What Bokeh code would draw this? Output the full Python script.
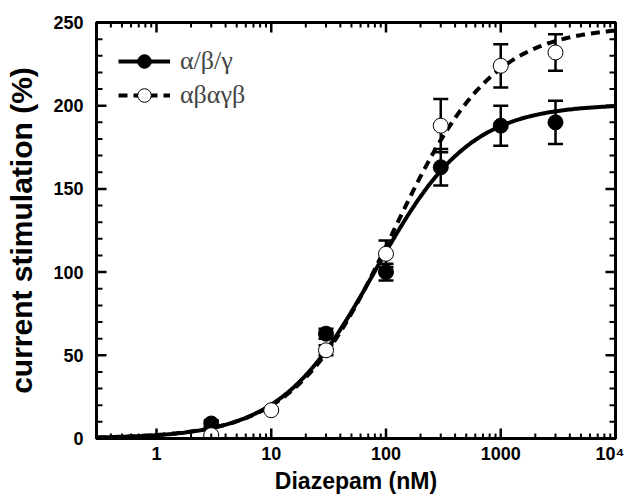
import numpy as np
from bokeh.plotting import figure
from bokeh.models import (ColumnDataSource, Whisker, FixedTicker, LinearAxis, LogAxis,
                          Legend, LegendItem, Range1d)
from bokeh.embed import file_html
from bokeh.resources import INLINE

# ---- data ----
conc_abg = [3, 30, 100, 300, 1000, 3000]
stim_abg = [9, 63, 100, 163, 188, 190]
err_abg = [2, 3, 5, 11, 12, 13]

conc_conc = [3, 10, 30, 100, 300, 1000, 3000]
stim_conc = [2, 17, 53, 111, 188, 224, 232]
err_conc = [0, 0, 3, 8, 16, 13, 11]

# Hill fit parameters (Emax, EC50 nM, Hill coefficient)
fit_abg = (201, 80, 1.05)
fit_conc = (248, 115, 1.0)

x_ticks = [1, 10, 100, 1000, 10000]
x_tick_labels = {1: "1", 10: "10", 100: "100", 1000: "1000", 10000: "10\u2074"}
y_ticks = [0, 50, 100, 150, 200, 250]
x_min, x_max = 0.3, 10000
y_min, y_max = 0, 250

label_font = "Liberation Sans"

W, H = 624, 498
BL, BR, BT, BB = 96, 9, 22, 60
p = figure(width=W, height=H, x_axis_type="log", output_backend="svg",
           toolbar_location=None, x_range=Range1d(x_min, x_max), y_range=Range1d(y_min, y_max),
           min_border_left=BL, min_border_right=BR, min_border_top=BT, min_border_bottom=BB)
p.xgrid.visible = False
p.ygrid.visible = False
p.outline_line_color = "black"
p.outline_line_width = 3
p.background_fill_color = "white"
p.border_fill_color = "white"

xminor = [m * 10.0 ** k for k in range(-1, 4) for m in range(2, 10) if x_min < m * 10.0 ** k < x_max]
yminor = [v for v in range(0, 251, 10) if v not in y_ticks]


def style_axis(ax, show_labels):
    ax.axis_line_width = 3
    ax.major_tick_in = 0
    ax.major_tick_out = 0
    ax.minor_tick_in = 0
    ax.minor_tick_out = 0
    ax.major_label_text_font = label_font
    ax.major_label_text_font_style = "bold"
    ax.major_label_text_font_size = "18px"
    ax.major_label_text_color = "black"
    ax.axis_label_text_font = label_font
    ax.axis_label_text_font_style = "bold"
    ax.axis_label_text_color = "black"
    if not show_labels:
        ax.major_label_text_alpha = 0
        ax.major_label_text_font_size = "2px"
        ax.major_label_standoff = 0


xa = p.xaxis[0]
xa.ticker = FixedTicker(ticks=x_ticks)
xa.major_label_overrides = x_tick_labels
style_axis(xa, True)
xa.axis_label = "Diazepam (nM)"
xa.axis_label_text_font_size = "23px"
xa.major_label_standoff = 5
xa.axis_label_standoff = 1

ya = p.yaxis[0]
ya.ticker = FixedTicker(ticks=y_ticks)
style_axis(ya, True)
ya.axis_label = "current stimulation (%)"
ya.axis_label_text_font_size = "30px"
ya.major_label_standoff = 13
ya.axis_label_standoff = 12

top = LogAxis(ticker=FixedTicker(ticks=x_ticks))
style_axis(top, False)
p.add_layout(top, "above")
right = LinearAxis(ticker=FixedTicker(ticks=y_ticks))
style_axis(right, False)
p.add_layout(right, "right")

# inward tick marks drawn as head-less whisker annotations from each frame edge
frame_w = W - BL - BR
frame_h = H - BT - BB
px_per_y = frame_h / (y_max - y_min)
px_per_decade = frame_w / (np.log10(x_max) - np.log10(x_min))


def tick_whisker(data, base, lower, upper, dim, width):
    src = ColumnDataSource(data)
    w = Whisker(source=src, base=base, lower=lower, upper=upper, dimension=dim,
                upper_head=None, lower_head=None, line_color="black", line_width=width,
                level="overlay")
    p.add_layout(w)


def x_edge_ticks(vals, length_px, width):
    d = length_px / px_per_y
    n = len(vals)
    tick_whisker(dict(x=vals, a=[y_min] * n, b=[y_min + d] * n), "x", "a", "b", "height", width)
    tick_whisker(dict(x=vals, a=[y_max - d] * n, b=[y_max] * n), "x", "a", "b", "height", width)


def y_edge_ticks(vals, length_px, width):
    f = 10 ** (length_px / px_per_decade)
    n = len(vals)
    tick_whisker(dict(y=vals, a=[x_min] * n, b=[x_min * f] * n), "y", "a", "b", "width", width)
    tick_whisker(dict(y=vals, a=[x_max / f] * n, b=[x_max] * n), "y", "a", "b", "width", width)


x_edge_ticks(x_ticks, 10, 2.5)
x_edge_ticks(xminor, 5, 2)
y_edge_ticks(y_ticks, 10, 2.5)
y_edge_ticks(yminor, 6, 2)

# fit curves
xs = np.logspace(np.log10(x_min), np.log10(x_max), 300)


def hill(params):
    emax, ec50, n = params
    return emax * xs ** n / (xs ** n + ec50 ** n)


l1 = p.line(xs, hill(fit_abg), line_color="black", line_width=4)
l2 = p.line(xs, hill(fit_conc), line_color="black", line_width=4, line_dash="9 6")

src1 = ColumnDataSource(dict(x=conc_abg, y=stim_abg,
                             lo=[a - b for a, b in zip(stim_abg, err_abg)],
                             hi=[a + b for a, b in zip(stim_abg, err_abg)]))
src2 = ColumnDataSource(dict(x=conc_conc, y=stim_conc,
                             lo=[a - b for a, b in zip(stim_conc, err_conc)],
                             hi=[a + b for a, b in zip(stim_conc, err_conc)]))

for src in (src1, src2):
    w = Whisker(source=src, base="x", lower="lo", upper="hi", dimension="height",
                line_color="black", line_width=2.5)
    w.upper_head.size = 15
    w.lower_head.size = 15
    w.upper_head.line_width = 2.5
    w.lower_head.line_width = 2.5
    p.add_layout(w)

s1 = p.scatter("x", "y", source=src1, size=15, marker="circle",
               fill_color="black", line_color="black", line_width=1)
s2 = p.scatter("x", "y", source=src2, size=15, marker="circle",
               fill_color="white", line_color="black", line_width=1)

legend = Legend(items=[LegendItem(label="\u03b1/\u03b2/\u03b3", renderers=[l1, s1]),
                       LegendItem(label="\u03b1\u03b2\u03b1\u03b3\u03b2", renderers=[l2, s2])],
                location="top_left", border_line_color=None, background_fill_alpha=0,
                padding=0, margin=22, spacing=0, glyph_width=52, glyph_height=34,
                label_height=34, label_standoff=10,
                label_text_font="Liberation Serif", label_text_font_size="26px")
p.add_layout(legend, "center")

open("out.html", "w").write(file_html(p, INLINE))
